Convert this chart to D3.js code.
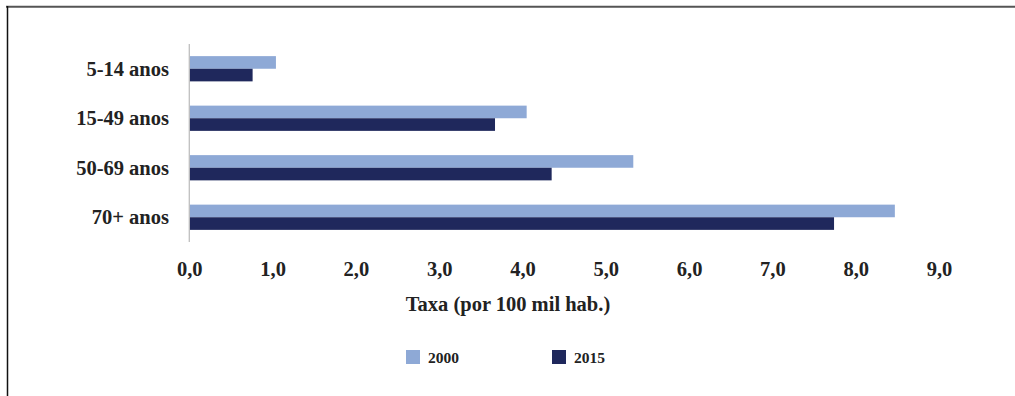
<!DOCTYPE html>
<html><head><meta charset="utf-8">
<script src="https://cdn.jsdelivr.net/npm/d3@7"></script>
<style>body{margin:0;background:#fff}svg{display:block} svg text{font-family:"Liberation Serif","Times New Roman",serif;font-weight:bold}</style>
</head><body>
<script>
const categories = ["5-14 anos","15-49 anos","50-69 anos","70+ anos"];
const seriesNames = ["2000","2015"];
const values2000 = [1.04, 4.05, 5.33, 8.47];
const values2015 = [0.76, 3.67, 4.35, 7.74];
const tickValues = [0,1,2,3,4,5,6,7,8,9];
const colors = ["#8EA9D6","#1F285C"];

const W = 1015, H = 396;
const svg = d3.select("body").append("svg").attr("width", W).attr("height", H);
const serifFamily = "Liberation Serif";
function styleText(sel, size) {
  return sel.style("font-family", serifFamily).style("font-weight","bold").style("font-size", size+"px").attr("fill","#222");
}

// frame
svg.append("line").attr("x1",6).attr("x2",W).attr("y1",6.8).attr("y2",6.8).attr("stroke","#555").attr("stroke-width",2);
svg.append("line").attr("x1",7.5).attr("x2",7.5).attr("y1",6).attr("y2",H).attr("stroke","#111").attr("stroke-width",1.5);

const x = d3.scaleLinear().domain([0,9]).range([189.3, 939]);
const y = d3.scaleBand().domain(categories).range([44, 242]).paddingInner(0.49).paddingOuter(0.245);
const sub = d3.scaleBand().domain(seriesNames).range([0, y.bandwidth()]);

const data = categories.map((c,i)=>({c, v:[values2000[i], values2015[i]]}));
const g = svg.append("g");
data.forEach(d=>{
  seriesNames.forEach((s,j)=>{
    g.append("rect").attr("x", x(0)).attr("y", y(d.c)+sub(s))
     .attr("width", x(d.v[j])-x(0)).attr("height", sub.bandwidth()).attr("fill", colors[j]);
  });
});

// y axis line
svg.append("line").attr("x1",x(0)).attr("x2",x(0)).attr("y1",44).attr("y2",242).attr("stroke","#BFBFBF").attr("stroke-width",1.3);

// category labels
styleText(svg.selectAll(".cat").data(categories).enter().append("text")
  .attr("x", 169).attr("y", d=>y(d)+y.bandwidth()/2).attr("dy","0.35em")
  .attr("text-anchor","end"), 20.5).text(d=>d);

// x tick labels
const fmt = v => d3.format(".1f")(v).replace(".", ",");
const xa = d3.axisBottom(x).tickValues(tickValues).tickFormat(fmt).tickSize(0).tickPadding(0);
const ax = svg.append("g").attr("transform","translate(0,261)").call(xa);
ax.attr("font-family", null);
ax.select(".domain").remove();
styleText(ax.selectAll("text"), 20.5).attr("dy","0.71em");

// axis title
styleText(svg.append("text").attr("x",508).attr("y",311).attr("text-anchor","middle"), 20.5)
  .text("Taxa (por 100 mil hab.)");

// legend
const lx = [406, 552];
seriesNames.forEach((s,j)=>{
  svg.append("rect").attr("x",lx[j]).attr("y",350).attr("width",14).attr("height",14).attr("fill",colors[j]);
  styleText(svg.append("text").attr("x",lx[j]+22).attr("y",363), 15.5).text(s);
});
</script>
</body></html>
